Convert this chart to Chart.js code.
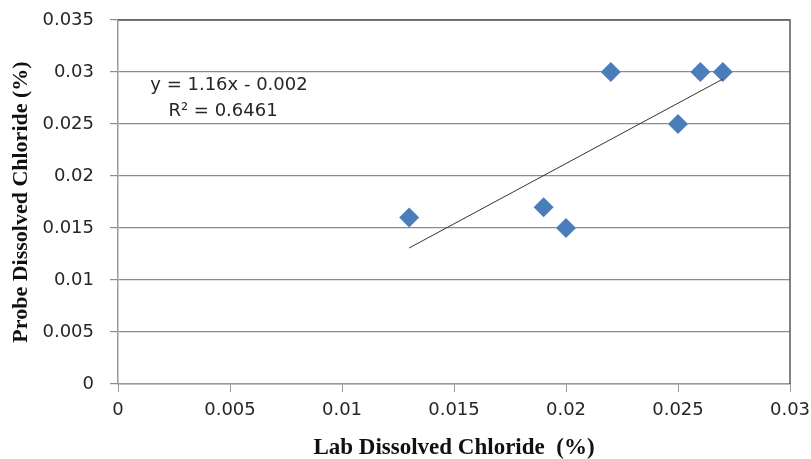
<!DOCTYPE html>
<html>
<head>
<meta charset="utf-8">
<script src="https://cdn.jsdelivr.net/npm/chart.js@4/dist/chart.umd.min.js"></script>
<style>
  html, body { margin: 0; padding: 0; background: #ffffff; }
  #wrap { width: 811px; height: 459px; position: relative; }
</style>
</head>
<body>
<div id="wrap"><canvas id="c" width="811" height="459"></canvas></div>
<script>
// Data
const labX = [0.013, 0.019, 0.020, 0.022, 0.025, 0.026, 0.027];
const probeY = [0.016, 0.017, 0.015, 0.030, 0.025, 0.030, 0.030];
// Linear trendline: y = 1.16x - 0.002 drawn over the data range
const trendSlope = 1.16;
const trendIntercept = -0.002;
const trendX = [0.013, 0.027];
const trendY = trendX.map(x => trendSlope * x + trendIntercept);
const equationLines = ["y = 1.16x - 0.002", "R\u00B2 = 0.6461"];
const xTitle = "Lab Dissolved Chloride  (%)";
const yTitle = "Probe Dissolved Chloride (%)";

const tickFont = { family: "'DejaVu Sans', sans-serif", size: 18 };
const xTitleFont = { family: "'Liberation Serif', 'Times New Roman', serif", size: 23, weight: 'bold' };
const yTitleFont = { family: "'Liberation Serif', 'Times New Roman', serif", size: 22, weight: 'bold' };

const borderPlugin = {
  id: 'plotBorder',
  afterDatasetsDraw(chart) {
    const { ctx, chartArea: a } = chart;
    ctx.save();
    ctx.strokeStyle = '#595959';
    ctx.lineWidth = 1.5;
    ctx.beginPath();
    ctx.moveTo(a.left, a.top);
    ctx.lineTo(a.right, a.top);
    ctx.lineTo(a.right, a.bottom);
    ctx.stroke();
    ctx.restore();
  }
};

const equationPlugin = {
  id: 'equation',
  afterDraw(chart) {
    const { ctx } = chart;
    ctx.save();
    ctx.fillStyle = '#262626';
    ctx.font = "18px 'DejaVu Sans', sans-serif";
    ctx.textAlign = 'center';
    ctx.textBaseline = 'alphabetic';
    ctx.fillText(equationLines[0], 229, 90);
    ctx.fillText(equationLines[1], 223, 116);
    ctx.restore();
  }
};

new Chart(document.getElementById('c'), {
  type: 'scatter',
  data: {
    datasets: [
      {
        label: 'Probe vs Lab',
        data: labX.map((x, i) => ({ x: x, y: probeY[i] })),
        pointStyle: 'rectRot',
        pointRadius: 10,
        pointHoverRadius: 10,
        backgroundColor: '#4A7EBB',
        borderColor: '#4A7EBB',
        borderWidth: 0,
        order: 1
      },
      {
        type: 'line',
        label: 'Trend',
        data: trendX.map((x, i) => ({ x: x, y: trendY[i] })),
        borderColor: '#333333',
        borderWidth: 1,
        pointRadius: 0,
        fill: false,
        order: 0
      }
    ]
  },
  options: {
    responsive: false,
    animation: false,
    devicePixelRatio: 1,
    layout: { padding: { left: 0, right: 21, top: 20, bottom: 0 } },
    plugins: {
      legend: { display: false },
      tooltip: { enabled: false }
    },
    scales: {
      x: {
        type: 'linear',
        min: 0,
        max: 0.03,
        afterFit(s) { s.height = 75; s.paddingLeft = 0; s.paddingRight = 0; },
        ticks: {
          stepSize: 0.005,
          color: '#262626',
          font: tickFont,
          padding: 8,
          maxRotation: 0,
          autoSkip: false,
          callback: v => String(parseFloat(v.toFixed(3)))
        },
        grid: {
          drawOnChartArea: false,
          drawTicks: true,
          tickLength: 8,
          color: '#9a9a9a'
        },
        border: { display: true, color: '#9a9a9a', width: 1.5 },
        title: { display: true, text: xTitle, color: '#111111', font: xTitleFont, padding: { top: 0, bottom: -3 } }
      },
      y: {
        type: 'linear',
        min: 0,
        max: 0.035,
        afterFit(s) { s.width = 118; s.paddingTop = 0; s.paddingBottom = 0; },
        ticks: {
          stepSize: 0.005,
          color: '#262626',
          font: tickFont,
          padding: 16,
          autoSkip: false,
          callback: v => String(parseFloat(v.toFixed(3)))
        },
        grid: {
          drawOnChartArea: true,
          drawTicks: true,
          tickLength: 8,
          color: '#8c8c8c',
          lineWidth: 1.2
        },
        border: { display: true, color: '#9a9a9a', width: 1.5 },
        title: { display: true, text: yTitle, color: '#111111', font: yTitleFont, padding: { top: 8, bottom: 0 } }
      }
    }
  },
  plugins: [borderPlugin, equationPlugin]
});
</script>
</body>
</html>
